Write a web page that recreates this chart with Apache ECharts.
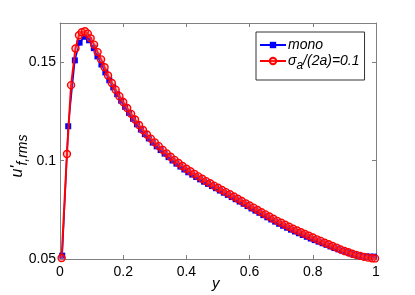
<!DOCTYPE html>
<html><head><meta charset="utf-8">
<script src="https://cdn.jsdelivr.net/npm/echarts@6/dist/echarts.min.js"></script>
<style>html,body{margin:0;padding:0;background:#fff}#c{width:415px;height:295px}</style>
</head><body><div id="c"></div>
<script>
// ---- data ----
const monoX = [0.007,0.026,0.047,0.062,0.077,0.092,0.107,0.1185,0.131,0.1435,0.156,0.1685,0.181,0.1935,0.206,0.2185,0.231,0.2435,0.256,0.2685,0.281,0.2935,0.306,0.3185,0.331,0.3435,0.356,0.3685,0.381,0.3935,0.406,0.4185,0.431,0.4435,0.456,0.4685,0.481,0.4935,0.506,0.5185,0.531,0.5435,0.556,0.5685,0.581,0.5935,0.606,0.6185,0.631,0.6435,0.656,0.6685,0.681,0.6935,0.706,0.7185,0.731,0.7435,0.756,0.7685,0.781,0.7935,0.806,0.8185,0.831,0.8435,0.856,0.8685,0.881,0.8935,0.906,0.9185,0.931,0.9435,0.956,0.9685,0.981,0.9935];
const monoY = [0.0517,0.1175,0.1510,0.1600,0.1630,0.1612,0.1572,0.1530,0.1489,0.1449,0.1409,0.1373,0.1338,0.1305,0.1274,0.1243,0.1213,0.1185,0.1158,0.1135,0.1113,0.1092,0.1073,0.1054,0.1036,0.1018,0.1001,0.0985,0.0970,0.0955,0.0941,0.0929,0.0917,0.0905,0.0893,0.0882,0.0871,0.0860,0.0848,0.0837,0.0826,0.0815,0.0804,0.0792,0.0781,0.0769,0.0757,0.0746,0.0735,0.0723,0.0712,0.0701,0.0690,0.0679,0.0669,0.0659,0.0649,0.0640,0.0631,0.0622,0.0613,0.0604,0.0596,0.0588,0.0580,0.0572,0.0564,0.0556,0.0549,0.0542,0.0535,0.0529,0.0523,0.0518,0.0515,0.0513,0.0512,0.0512];
const sigmaX = [0.005,0.022,0.035,0.049,0.060,0.069,0.079,0.088,0.097,0.108,0.119,0.130,0.141,0.152,0.164,0.176,0.188,0.200,0.2125,0.225,0.2375,0.25,0.2625,0.275,0.2875,0.3,0.3125,0.325,0.3375,0.35,0.3625,0.375,0.3875,0.4,0.4125,0.425,0.4375,0.45,0.4625,0.475,0.4875,0.5,0.5125,0.525,0.5375,0.55,0.5625,0.575,0.5875,0.6,0.6125,0.625,0.6375,0.65,0.6625,0.675,0.6875,0.7,0.7125,0.725,0.7375,0.75,0.7625,0.775,0.7875,0.8,0.8125,0.825,0.8375,0.85,0.8625,0.875,0.8875,0.9,0.9125,0.925,0.9375,0.95,0.9625,0.975,0.9875,0.997];
const sigmaY = [0.0505,0.1034,0.1384,0.1570,0.1638,0.1653,0.1658,0.1646,0.1622,0.1590,0.1552,0.1515,0.1475,0.1433,0.1395,0.1361,0.1328,0.1298,0.1268,0.1238,0.1209,0.1181,0.1156,0.1133,0.1112,0.1093,0.1074,0.1055,0.1037,0.1020,0.1004,0.0988,0.0973,0.0959,0.0946,0.0933,0.0920,0.0908,0.0896,0.0885,0.0873,0.0862,0.0851,0.0840,0.0829,0.0818,0.0806,0.0795,0.0783,0.0772,0.0761,0.0749,0.0738,0.0727,0.0716,0.0705,0.0694,0.0684,0.0674,0.0664,0.0654,0.0645,0.0636,0.0627,0.0618,0.0609,0.0600,0.0592,0.0583,0.0575,0.0566,0.0558,0.0549,0.0541,0.0534,0.0527,0.0521,0.0516,0.0511,0.0507,0.0504,0.0503];
const xTicks = [0, 0.2, 0.4, 0.6, 0.8, 1];
const yTicks = [0.05, 0.1, 0.15];
const seriesNames = ['mono', 'sigma'];

const pairs = (xs, ys) => xs.map((x, i) => [x, ys[i]]);
const FONT = 'Liberation Sans';
const AX = '#7f7f7f';
const chart = echarts.init(document.getElementById('c'), null, {renderer: 'canvas'});
const axBase = {
  axisLine: {show: true, onZero: false, lineStyle: {color: AX, width: 1}},
  axisTick: {show: true, inside: true, length: 4, lineStyle: {color: AX}},
  splitLine: {show: false}
};
chart.setOption({
  animation: false,
  backgroundColor: '#fff',
  grid: {left: 60, right: 39, top: 23, bottom: 36, containLabel: false},
  xAxis: [
    Object.assign({type: 'value', min: xTicks[0], max: xTicks[xTicks.length-1], interval: 0.2,
      axisLabel: {color: '#000', fontFamily: FONT, fontSize: 14, margin: 6}}, axBase),
    Object.assign({type: 'value', position: 'top', min: 0, max: 1, interval: 0.2,
      axisLabel: {show: false}}, axBase)
  ],
  yAxis: [
    Object.assign({type: 'value', min: yTicks[0], max: 0.17, interval: 0.05,
      axisLabel: {color: '#000', fontFamily: FONT, fontSize: 14, margin: 4, showMaxLabel: false,
        formatter: v => yTicks.some(t => Math.abs(t - v) < 1e-9) ? String(+v.toFixed(2)) : ''}}, axBase),
    Object.assign({type: 'value', position: 'right', min: 0.05, max: 0.17, interval: 0.05,
      axisLabel: {show: false}}, axBase)
  ],
  legend: {
    orient: 'vertical', left: 256, top: 32,
    backgroundColor: '#fff', borderColor: '#333', borderWidth: 1,
    padding: [6, 5, 8, 3], itemGap: 2, itemWidth: 26, itemHeight: 8,
    data: seriesNames,
    formatter: n => n === 'mono' ? '{i|mono}' : '{i|σ}{s|a}{i|/(2a)=0.1}',
    textStyle: {
      fontFamily: FONT, fontSize: 14, color: '#000', padding: [0, 0, 0, -3],
      rich: {
        i: {fontFamily: FONT, fontSize: 14, fontStyle: 'italic', color: '#000', lineHeight: 22, verticalAlign: 'middle'},
        s: {fontFamily: FONT, fontSize: 12, fontStyle: 'italic', color: '#000', lineHeight: 22, verticalAlign: 'bottom'}
      }
    }
  },
  series: [
    {name: 'mono', type: 'line', data: pairs(monoX, monoY),
      symbol: 'rect', symbolSize: 6, showAllSymbol: true,
      lineStyle: {color: '#0000ff', width: 1.5}, itemStyle: {color: '#0000ff'}, z: 2},
    {name: 'sigma', type: 'line', data: pairs(sigmaX, sigmaY),
      symbol: 'circle', symbolSize: 7, showAllSymbol: true,
      lineStyle: {color: '#ff0000', width: 2},
      itemStyle: {color: 'rgba(255,90,90,0.35)', borderColor: '#ff0000', borderWidth: 1.4}, z: 3}
  ],
  graphic: [
    {type: 'text', left: 212, top: 276, style: {text: 'y', font: 'italic 15px "Liberation Sans"', fill: '#000'}},
    {type: 'text', x: 18, y: 156, rotation: Math.PI / 2,
      style: {text: "{u|u'}{s|f,rms}", align: 'center', verticalAlign: 'middle',
        rich: {
          u: {font: 'italic 16px "Liberation Sans"', fill: '#000', lineHeight: 24, verticalAlign: 'middle'},
          s: {font: 'italic 14px "Liberation Sans"', fill: '#000', lineHeight: 24, verticalAlign: 'bottom'}
        }}}
  ]
});
</script></body></html>
